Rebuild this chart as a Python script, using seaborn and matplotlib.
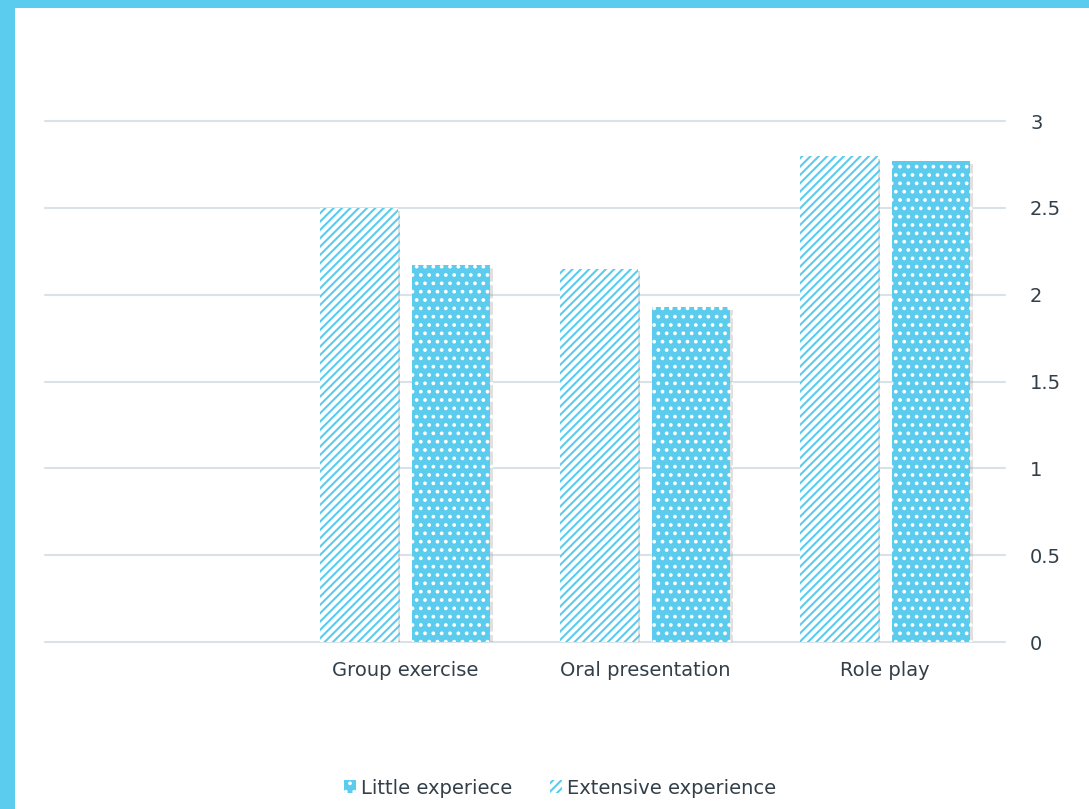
import numpy as np
import pandas as pd
import matplotlib
matplotlib.use("Agg")
import matplotlib.pyplot as plt
import matplotlib.patheffects as pe
from matplotlib.patches import Patch, Rectangle
from matplotlib.ticker import FuncFormatter
import seaborn as sns

# Chart data
categories = ["", "Group exercise", "Oral presentation", "Role play"]
extensive = [np.nan, 2.5, 2.15, 2.8]
little = [np.nan, 2.17, 1.93, 2.77]
groups = ["Extensive experience", "Little experiece"]
yticks = [0, 0.5, 1, 1.5, 2, 2.5, 3]

blue = "#5BCBEE"
text_col = "#333F48"
grid_col = "#D9E2E6"

rows = []
for cat, e, l in zip(categories, extensive, little):
    if cat == "":
        continue
    rows.append({"task": cat, "score": e, "group": groups[0]})
    rows.append({"task": cat, "score": l, "group": groups[1]})
df = pd.DataFrame(rows)

sns.set_style("white")
plt.rcParams["font.family"] = ["DejaVu Sans"]
plt.rcParams["hatch.linewidth"] = 1.5

fig = plt.figure(figsize=(10.89, 8.09), dpi=100)
ax = fig.add_axes([0.0413, 0.2064, 0.8816, 0.644])

sns.barplot(data=df, x="task", y="score", hue="group", order=categories,
            hue_order=groups, width=0.77, gap=0.16, errorbar=None,
            legend=False, ax=ax)

shadow = [pe.SimplePatchShadow(offset=(2, -2), shadow_rgbFace="#999999", alpha=0.3), pe.Normal()]
# Extensive: white with blue diagonal lines, Little: blue with white dots
for bar in ax.containers[0]:
    bar.set_facecolor("white")
    bar.set_edgecolor(blue)
    bar.set_linewidth(0)
    bar.set_hatch("////")
    bar.set_path_effects(shadow)
for bar in ax.containers[1]:
    bar.set_facecolor(blue)
    bar.set_edgecolor("white")
    bar.set_linewidth(0)
    bar.set_hatch("..")
    bar.set_path_effects(shadow)

ax.set_xlim(-0.5, 3.5)
ax.set_ylim(0, 3)
ax.set_yticks(yticks)
ax.yaxis.set_major_formatter(FuncFormatter(lambda v, p: f"{v:g}"))
ax.yaxis.tick_right()
ax.tick_params(axis="y", length=0, pad=18, labelsize=14, labelcolor=text_col)
ax.tick_params(axis="x", length=0, pad=14, labelsize=14, labelcolor=text_col)
ax.yaxis.grid(True, color=grid_col, linewidth=1.5)
for gl in ax.yaxis.get_gridlines():
    gl.set_clip_on(False)
ax.set_axisbelow(True)
sns.despine(ax=ax, left=True, bottom=True, right=True, top=True)
ax.set_xlabel("")
ax.set_ylabel("")

# Legend: Little first, then Extensive
handles = [
    Patch(facecolor=blue, edgecolor="white", linewidth=0, hatch=".."),
    Patch(facecolor="white", edgecolor=blue, linewidth=0, hatch="////"),
]
fig.legend(handles, [groups[1], groups[0]], loc="center",
           bbox_to_anchor=(560 / 1089, 1 - 788 / 809), ncol=2, frameon=False,
           fontsize=14, labelcolor=text_col, handlelength=0.65, handleheight=0.65,
           handletextpad=0.25, columnspacing=1.9)

# Light blue frame on left and top
fig.add_artist(Rectangle((0, 0), 15 / 1089, 1, transform=fig.transFigure,
                         facecolor=blue, edgecolor="none"))
fig.add_artist(Rectangle((0, 1 - 8 / 809), 1, 8 / 809, transform=fig.transFigure,
                         facecolor=blue, edgecolor="none"))

fig.savefig("out.png", dpi=100)
